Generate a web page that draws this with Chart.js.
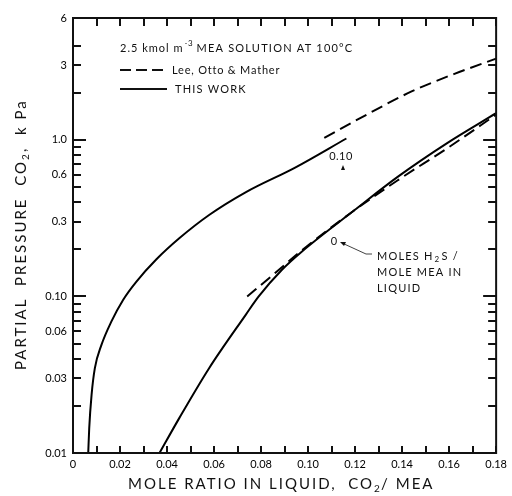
<!DOCTYPE html>
<html>
<head>
<meta charset="utf-8">
<script src="https://cdn.jsdelivr.net/npm/chart.js@4/dist/chart.umd.min.js"></script>
<style>
  html, body { margin: 0; padding: 0; background: #fff; }
  #wrap { width: 512px; height: 496px; }
</style>
</head>
<body>
<div id="wrap"><canvas id="chart" width="512" height="496"></canvas></div>
<script>
// THIS WORK, 0.10 mol H2S / mol MEA
const ratioHigh = [0.00648, 0.0069, 0.0079, 0.0093, 0.0121, 0.0163, 0.0213, 0.0269, 0.0354, 0.0452, 0.0579, 0.0734, 0.0945, 0.1163];
const pressHigh = [0.010, 0.0144, 0.0235, 0.0348, 0.049, 0.069, 0.095, 0.124, 0.172, 0.235, 0.331, 0.462, 0.665, 1.02];
// THIS WORK, 0 mol H2S / mol MEA
const ratioZero = [0.0368, 0.0452, 0.0579, 0.0734, 0.079, 0.0889, 0.0973, 0.1198, 0.1381, 0.159, 0.18];
const pressZero = [0.010, 0.0167, 0.0348, 0.076, 0.100, 0.148, 0.193, 0.356, 0.58, 0.95, 1.48];
// Lee, Otto & Mather
const ratioLeeHigh = [0.1069, 0.125, 0.1438, 0.162, 0.18];
const pressLeeHigh = [1.03, 1.45, 2.03, 2.63, 3.3];
const ratioLeeZero = [0.0741, 0.085, 0.097, 0.118, 0.138, 0.16, 0.18];
const pressLeeZero = [0.100, 0.137, 0.195, 0.34, 0.55, 0.90, 1.45];

// tick labels
const xLabels = [0, 0.02, 0.04, 0.06, 0.08, 0.10, 0.12, 0.14, 0.16, 0.18];
const xMinor = [0.01, 0.03, 0.05, 0.07, 0.09, 0.11, 0.13, 0.15, 0.17];
const yLabels = [6, 3, 1.0, 0.6, 0.3, 0.10, 0.06, 0.03, 0.01];
const yLabelText = ["6", "3", "1.0", "0.6", "0.3", "0.10", "0.06", "0.03", "0.01"];
const yMinor = [4, 2, 0.9, 0.8, 0.7, 0.5, 0.4, 0.2, 0.09, 0.08, 0.07, 0.05, 0.04, 0.02];
const yDecades = [1.0, 0.10];

const FONT = "Lato, 'DejaVu Sans', sans-serif";

function toPoints(xs, ys) {
  return xs.map((x, i) => ({ x: x, y: ys[i] }));
}

function lineSet(xs, ys, dash) {
  return {
    data: toPoints(xs, ys),
    showLine: true,
    borderColor: "#000",
    borderWidth: 2,
    borderDash: dash,
    pointRadius: 0,
    cubicInterpolationMode: "monotone",
    fill: false
  };
}

function text(ctx, str, x, y, size, align, spacing) {
  ctx.font = size + "px " + FONT;
  ctx.letterSpacing = spacing || "0px";
  ctx.textAlign = align || "left";
  ctx.textBaseline = "middle";
  ctx.fillText(str, x, y);
}

const decorations = {
  id: "decorations",
  afterDraw(chart) {
    const ctx = chart.ctx;
    const a = chart.chartArea;
    const xs = chart.scales.x;
    const ys = chart.scales.y;
    ctx.save();
    ctx.setLineDash([]);
    ctx.strokeStyle = "#111";
    ctx.fillStyle = "#111";

    // inward ticks on all four sides
    xLabels.concat(xMinor).forEach(v => {
      const px = Math.round(xs.getPixelForValue(v));
      ctx.fillRect(px - 1, a.bottom - 7, 2, 7);
      ctx.fillRect(px - 1, a.top, 2, 8);
    });
    yLabels.concat(yMinor).forEach(v => {
      const py = Math.round(ys.getPixelForValue(v));
      const len = yDecades.includes(v) ? 13 : 8;
      ctx.fillRect(a.left, py - 1, len, 2);
      ctx.fillRect(a.right - len, py - 1, len, 2);
    });

    // frame
    ctx.lineWidth = 2;
    ctx.strokeRect(a.left, a.top, a.right - a.left, a.bottom - a.top);

    // header and legend
    text(ctx, "2.5 kmol m", 120, 48, 11, "left", "1px");
    let w = ctx.measureText("2.5 kmol m").width;
    text(ctx, "-3", 120 + w + 1, 43, 8, "left", "0.5px");
    text(ctx, "MEA SOLUTION AT 100°C", 120 + w + 13, 48, 11, "left", "1.2px");

    ctx.lineWidth = 2;
    ctx.setLineDash([11, 5]);
    ctx.beginPath(); ctx.moveTo(120, 70); ctx.lineTo(167, 70); ctx.stroke();
    ctx.setLineDash([]);
    ctx.beginPath(); ctx.moveTo(120, 89); ctx.lineTo(167, 89); ctx.stroke();
    text(ctx, "Lee, Otto & Mather", 172, 70, 11, "left", "0.8px");
    text(ctx, "THIS WORK", 175, 89, 11, "left", "1.2px");

    // curve annotations
    text(ctx, "0.10", 341, 156, 11, "center", "0.5px");
    ctx.beginPath();
    ctx.moveTo(343, 165); ctx.lineTo(341, 170); ctx.lineTo(345, 170); ctx.closePath(); ctx.fill();

    text(ctx, "0", 334, 241, 11, "center");
    ctx.lineWidth = 0.8;
    ctx.beginPath(); ctx.moveTo(372, 254); ctx.lineTo(366, 254); ctx.lineTo(342, 243); ctx.stroke();
    ctx.beginPath(); ctx.moveTo(340, 242); ctx.lineTo(346, 242); ctx.lineTo(344, 246); ctx.closePath(); ctx.fill();
    text(ctx, "MOLES H", 377, 256, 11, "left", "1.2px");
    w = ctx.measureText("MOLES H").width;
    text(ctx, "2", 377 + w + 1, 259, 8, "left");
    text(ctx, "S /", 377 + w + 8, 256, 11, "left", "1.2px");
    text(ctx, "MOLE MEA IN", 377, 272, 11, "left", "1.2px");
    text(ctx, "LIQUID", 377, 288, 11, "left", "1.2px");

    // axis titles
    text(ctx, "MOLE RATIO IN LIQUID,  CO", 128, 484, 15, "left", "2px");
    w = ctx.measureText("MOLE RATIO IN LIQUID,  CO").width;
    text(ctx, "2", 128 + w, 489, 10, "left");
    text(ctx, "/ MEA", 128 + w + 7, 484, 15, "left", "2px");

    ctx.translate(21, 370);
    ctx.rotate(-Math.PI / 2);
    text(ctx, "PARTIAL  PRESSURE  CO", 0, 0, 15, "left", "2px");
    w = ctx.measureText("PARTIAL  PRESSURE  CO").width;
    text(ctx, "2", w, 5, 10, "left");
    text(ctx, ",  k Pa", w + 8, 0, 15, "left", "2px");
    ctx.restore();
  }
};

new Chart(document.getElementById("chart"), {
  type: "scatter",
  data: {
    datasets: [
      lineSet(ratioHigh, pressHigh, []),
      lineSet(ratioZero, pressZero, []),
      lineSet(ratioLeeHigh, pressLeeHigh, [12, 6]),
      lineSet(ratioLeeZero, pressLeeZero, [12, 6])
    ]
  },
  options: {
    responsive: false,
    animation: false,
    layout: { padding: 0 },
    plugins: {
      legend: { display: false },
      tooltip: { enabled: false }
    },
    scales: {
      x: {
        type: "linear",
        min: 0,
        max: 0.18,
        afterBuildTicks: s => { s.ticks = xLabels.map(v => ({ value: v })); },
        afterFit: s => { s.height = 43; },
        grid: { display: false, drawTicks: false },
        border: { display: false },
        ticks: {
          padding: 5,
          color: "#000",
          font: { family: FONT, size: 11 },
          callback: v => (v === 0 ? "0" : v.toFixed(2))
        }
      },
      y: {
        type: "logarithmic",
        min: 0.01,
        max: 6,
        afterBuildTicks: s => { s.ticks = yLabels.map(v => ({ value: v })); },
        afterFit: s => { s.width = 73; },
        grid: { display: false, drawTicks: false },
        border: { display: false },
        ticks: {
          padding: 6,
          color: "#000",
          autoSkip: false,
          font: { family: FONT, size: 11 },
          callback: (v, i) => yLabelText[i]
        }
      },
      xTop: {
        type: "linear",
        position: "top",
        min: 0,
        max: 0.18,
        afterFit: s => { s.height = 18; },
        grid: { display: false, drawTicks: false },
        border: { display: false },
        ticks: { display: false }
      },
      yRight: {
        type: "logarithmic",
        position: "right",
        min: 0.01,
        max: 6,
        afterFit: s => { s.width = 13; },
        grid: { display: false, drawTicks: false },
        border: { display: false },
        ticks: { display: false }
      }
    }
  },
  plugins: [decorations]
});
</script>
</body>
</html>
